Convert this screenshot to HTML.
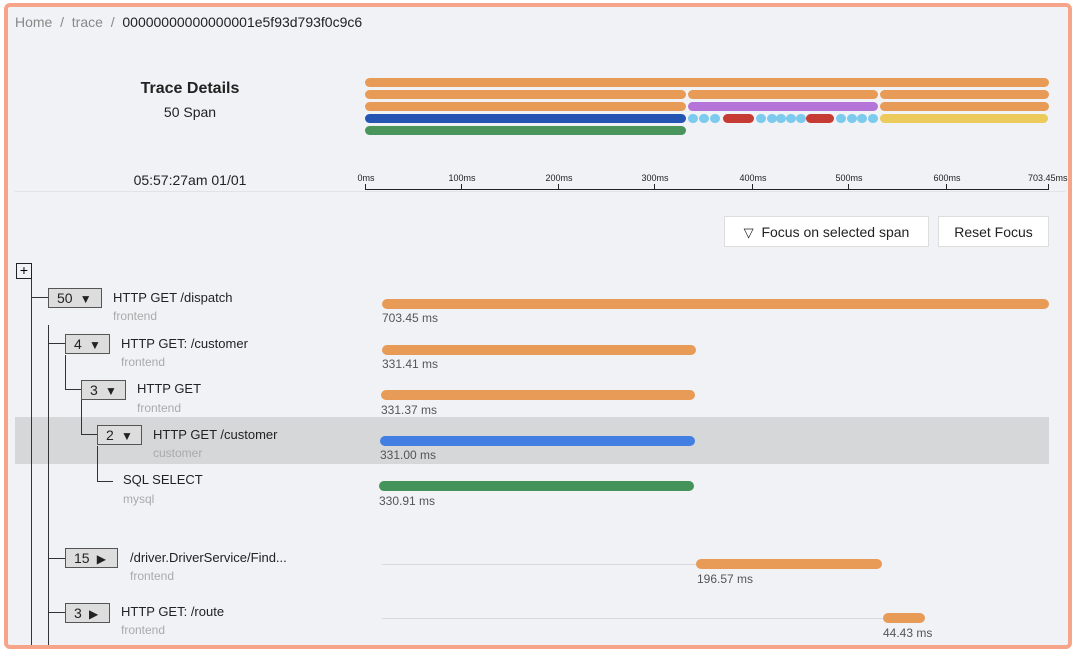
<!DOCTYPE html><html><head><style>
body{margin:0;width:1082px;height:660px;background:#fff;position:relative;overflow:hidden;font-family:"Liberation Sans",sans-serif;}
.frame{position:absolute;left:4px;top:3px;width:1060px;height:638px;border:4px solid #f6a58b;border-radius:6px;background:#f1f2f5;overflow:hidden}
.a{position:absolute;white-space:nowrap}
.b{position:absolute;height:9px;border-radius:5px}
.o{background:#e89b57}
.t{font-size:13px;color:#222}
.s{font-size:12px;color:#aaa}
.d{font-size:12px;color:#555}
.box{position:absolute;border:1px solid #555;background:#ddd;height:20px;font-size:14px;color:#222;line-height:19px;padding-left:8px;box-sizing:border-box}
.box span{font-size:12px}
.vl{position:absolute;width:1px;background:#333}
.hl{position:absolute;height:1px;background:#333}
.tick{position:absolute;width:1px;height:5px;background:#222;top:184px}
.tl{position:absolute;font-size:9px;color:#222;top:173px;transform:translateX(-50%)}
.btn{position:absolute;top:216px;height:31px;background:#fff;border:1px solid #ddd;font-size:14px;color:#222;line-height:30px;box-sizing:border-box;text-align:center}
.dot{position:absolute;top:114px;width:10px;height:9px;border-radius:5px;background:#7ccbee}
</style></head><body>
<div class="frame"></div>
<div class="a" style="left:15px;top:14px;font-size:14px;color:#888">Home &nbsp;/&nbsp; trace &nbsp;/&nbsp; <span style="color:#222">00000000000000001e5f93d793f0c9c6</span></div>
<div class="a" style="left:190px;top:80px;transform:translateX(-50%);font-size:16px;font-weight:bold;color:#222">Trace Details</div>
<div class="a" style="left:190px;top:104px;transform:translateX(-50%);font-size:14px;color:#222">50 Span</div>
<div class="a" style="left:190px;top:172px;transform:translateX(-50%);font-size:14px;color:#222">05:57:27am 01/01</div>
<div class="b o" style="left:365px;top:78px;width:684px"></div>
<div class="b o" style="left:365px;top:90px;width:321px"></div>
<div class="b o" style="left:688px;top:90px;width:190px"></div>
<div class="b o" style="left:880px;top:90px;width:169px"></div>
<div class="b o" style="left:365px;top:102px;width:321px"></div>
<div class="b" style="left:688px;top:102px;width:190px;background:#b574d8"></div>
<div class="b o" style="left:880px;top:102px;width:169px"></div>
<div class="b" style="left:365px;top:114px;width:321px;background:#2455b3"></div>
<div class="dot" style="left:688px"></div><div class="dot" style="left:699px"></div><div class="dot" style="left:710px"></div>
<div class="b" style="left:723px;top:114px;width:31px;background:#c63b34"></div>
<div class="dot" style="left:756px"></div><div class="dot" style="left:767px"></div><div class="dot" style="left:776px"></div><div class="dot" style="left:786px"></div><div class="dot" style="left:796px"></div>
<div class="b" style="left:806px;top:114px;width:28px;background:#c63b34"></div>
<div class="dot" style="left:836px"></div><div class="dot" style="left:847px"></div><div class="dot" style="left:857px"></div><div class="dot" style="left:868px"></div>
<div class="b" style="left:880px;top:114px;width:168px;background:#ecca5c"></div>
<div class="b" style="left:365px;top:126px;width:321px;background:#4a955b"></div>
<div class="a" style="left:365px;top:189px;width:684px;height:1px;background:#222"></div>
<div class="a" style="left:15px;top:191px;width:1050px;height:1px;background:#e2e3e6"></div>
<div class="tick" style="left:365px"></div><div class="tl" style="left:366px">0ms</div>
<div class="tick" style="left:461px"></div><div class="tl" style="left:462px">100ms</div>
<div class="tick" style="left:558px"></div><div class="tl" style="left:559px">200ms</div>
<div class="tick" style="left:654px"></div><div class="tl" style="left:655px">300ms</div>
<div class="tick" style="left:752px"></div><div class="tl" style="left:753px">400ms</div>
<div class="tick" style="left:848px"></div><div class="tl" style="left:849px">500ms</div>
<div class="tick" style="left:946px"></div><div class="tl" style="left:947px">600ms</div>
<div class="tick" style="left:1048px"></div><div class="a" style="left:1028px;top:173px;font-size:9px;color:#222">703.45ms</div>
<div class="btn" style="left:724px;width:205px"><span style="font-size:13px">&#9661;</span>&nbsp; Focus on selected span</div>
<div class="btn" style="left:938px;width:111px">Reset Focus</div>
<div class="a" style="left:15px;top:417px;width:1034px;height:47px;background:#d6d7d9"></div>
<div class="a" style="left:16px;top:263px;width:14px;height:14px;border:1px solid #222;font-size:14px;line-height:13px;text-align:center">+</div>
<div class="vl" style="left:31px;top:279px;height:366px"></div>
<div class="hl" style="left:31px;top:297px;width:17px"></div>
<div class="vl" style="left:48px;top:325px;height:320px"></div>
<div class="hl" style="left:48px;top:343px;width:17px"></div>
<div class="vl" style="left:65px;top:355px;height:35px"></div>
<div class="hl" style="left:65px;top:389px;width:17px"></div>
<div class="vl" style="left:81px;top:400px;height:35px"></div>
<div class="hl" style="left:81px;top:434px;width:17px"></div>
<div class="vl" style="left:97px;top:446px;height:35px"></div>
<div class="hl" style="left:97px;top:481px;width:16px"></div>
<div class="hl" style="left:48px;top:558px;width:17px"></div>
<div class="hl" style="left:48px;top:612px;width:17px"></div>
<div class="box" style="left:48px;top:288px;width:54px">50 <span>&nbsp;&#9660;</span></div>
<div class="box" style="left:65px;top:334px;width:45px">4 <span>&nbsp;&#9660;</span></div>
<div class="box" style="left:81px;top:380px;width:45px">3 <span>&nbsp;&#9660;</span></div>
<div class="box" style="left:97px;top:425px;width:45px">2 <span>&nbsp;&#9660;</span></div>
<div class="box" style="left:65px;top:548px;width:53px">15 <span>&nbsp;&#9654;</span></div>
<div class="box" style="left:65px;top:603px;width:45px">3 <span>&nbsp;&#9654;</span></div>
<div class="a t" style="left:113px;top:290px">HTTP GET /dispatch</div><div class="a s" style="left:113px;top:309px">frontend</div>
<div class="a t" style="left:121px;top:336px">HTTP GET: /customer</div><div class="a s" style="left:121px;top:355px">frontend</div>
<div class="a t" style="left:137px;top:381px">HTTP GET</div><div class="a s" style="left:137px;top:401px">frontend</div>
<div class="a t" style="left:153px;top:427px">HTTP GET /customer</div><div class="a s" style="left:153px;top:446px">customer</div>
<div class="a t" style="left:123px;top:472px">SQL SELECT</div><div class="a s" style="left:123px;top:492px">mysql</div>
<div class="a t" style="left:130px;top:550px">/driver.DriverService/Find...</div><div class="a s" style="left:130px;top:569px">frontend</div>
<div class="a t" style="left:121px;top:604px">HTTP GET: /route</div><div class="a s" style="left:121px;top:623px">frontend</div>
<div class="b o" style="left:382px;top:299px;width:667px;height:10px"></div><div class="a d" style="left:382px;top:311px">703.45 ms</div>
<div class="b o" style="left:382px;top:345px;width:314px;height:10px"></div><div class="a d" style="left:382px;top:357px">331.41 ms</div>
<div class="b o" style="left:381px;top:390px;width:314px;height:10px"></div><div class="a d" style="left:381px;top:403px">331.37 ms</div>
<div class="b" style="left:380px;top:436px;width:315px;height:10px;background:#437fe2"></div><div class="a d" style="left:380px;top:448px">331.00 ms</div>
<div class="b" style="left:379px;top:481px;width:315px;height:10px;background:#43935a"></div><div class="a d" style="left:379px;top:494px">330.91 ms</div>
<div class="a" style="left:382px;top:564px;width:315px;height:1px;background:#d8d9dc"></div>
<div class="b o" style="left:696px;top:559px;width:186px;height:10px"></div><div class="a d" style="left:697px;top:572px">196.57 ms</div>
<div class="a" style="left:382px;top:618px;width:501px;height:1px;background:#d8d9dc"></div>
<div class="b o" style="left:883px;top:613px;width:42px;height:10px"></div><div class="a d" style="left:883px;top:626px">44.43 ms</div>
</body></html>
